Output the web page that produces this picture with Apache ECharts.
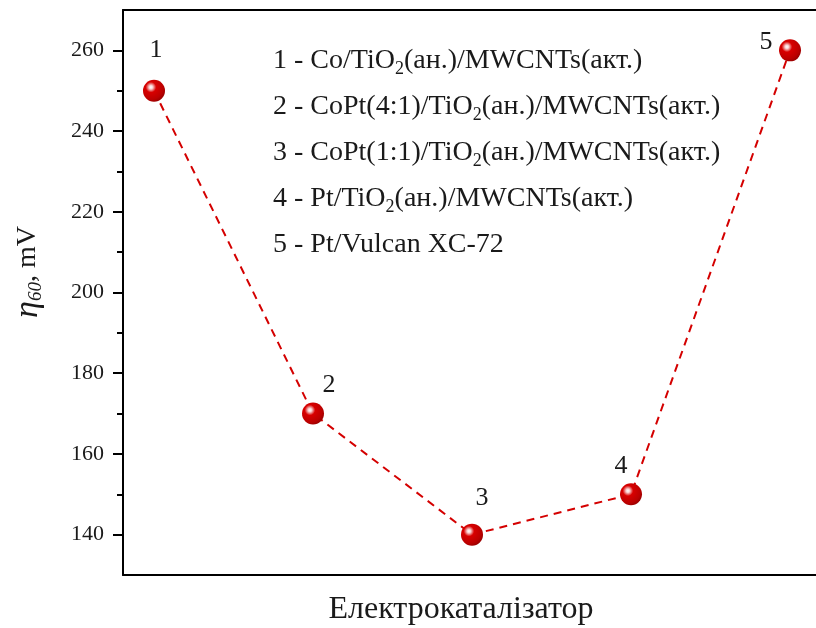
<!DOCTYPE html>
<html>
<head>
<meta charset="utf-8">
<script src="https://cdn.jsdelivr.net/npm/echarts@6/dist/echarts.min.js"></script>
<style>
  html, body { margin: 0; padding: 0; background: #ffffff; }
  #chart { width: 816px; height: 628px; }
</style>
</head>
<body>
<div id="chart"></div>
<script>
// Catalyst index (x) and overpotential at 60 mA (y, mV)
const catalystIds = [1, 2, 3, 4, 5];
const overpotential = [250, 170, 140, 150, 260];
const pointLabels = ['1', '2', '3', '4', '5'];

// Legend lines; {s|...} marks subscript
const legendLines = [
  '1 - Co/TiO{s|2}(ан.)/MWCNTs(акт.)',
  '2 - CoPt(4:1)/TiO{s|2}(ан.)/MWCNTs(акт.)',
  '3 - CoPt(1:1)/TiO{s|2}(ан.)/MWCNTs(акт.)',
  '4 - Pt/TiO{s|2}(ан.)/MWCNTs(акт.)',
  '5 - Pt/Vulcan XC-72'
];

const yMajorTicks = [140, 160, 180, 200, 220, 240, 260];
const yMinorTicks = [150, 170, 190, 210, 230, 250];
const xTitle = 'Електрокаталізатор';
const yTitle = '{eta|η}{sub|60}, mV';

const FONT = 'Liberation Serif';
const INK = '#1a1a1a';

// Per-point label offsets [dx, dy] relative to the marker centre
const labelShift = [[2, -41], [16, -28], [10, -36], [-10, -28], [-24, -8]];

const seriesData = catalystIds.map((x, i) => ({
  value: [x, overpotential[i]],
  label: {
    show: true,
    formatter: pointLabels[i],
    position: 'inside',
    offset: labelShift[i]
  }
}));

const sphere = {
  type: 'radial', x: 0.36, y: 0.34, r: 0.7,
  colorStops: [
    { offset: 0, color: '#ffffff' },
    { offset: 0.12, color: '#f8d0d0' },
    { offset: 0.34, color: '#d80000' },
    { offset: 0.8, color: '#bb0000' },
    { offset: 1, color: '#9a0000' }
  ]
};

const legendGraphics = legendLines.map((line, i) => ({
  type: 'text',
  x: 273,
  y: 61 + i * 46,
  style: {
    text: line,
    fontFamily: FONT,
    fontSize: 28,
    fill: INK,
    align: 'left',
    verticalAlign: 'middle',
    rich: {
      s: { fontFamily: FONT, fontSize: 18, fill: INK, padding: [17, 0, 0, 0] }
    }
  }
}));

const chart = echarts.init(document.getElementById('chart'), null, { renderer: 'canvas' });

const xRange = { min: 0.805, max: 5.1635 };

chart.setOption({
  animation: false,
  backgroundColor: '#ffffff',
  grid: { left: 123, right: 0, top: 10, bottom: 53, containLabel: false },
  xAxis: [
    {
      type: 'value', min: xRange.min, max: xRange.max, position: 'bottom',
      axisLine: { show: true, onZero: false, lineStyle: { color: '#000', width: 2 } },
      axisTick: { show: false }, axisLabel: { show: false }, splitLine: { show: false }
    },
    {
      type: 'value', min: xRange.min, max: xRange.max, position: 'top',
      axisLine: { show: true, onZero: false, lineStyle: { color: '#000', width: 2 } },
      axisTick: { show: false }, axisLabel: { show: false }, splitLine: { show: false }
    }
  ],
  yAxis: [
    {
      type: 'value', min: 130, max: 270, position: 'left',
      axisLine: { show: true, onZero: false, lineStyle: { color: '#000', width: 2 } },
      axisTick: { show: true, inside: false, length: 10, customValues: yMajorTicks,
                  lineStyle: { color: '#000', width: 2 } },
      axisLabel: { show: true, margin: 19, customValues: yMajorTicks,
                   fontFamily: FONT, fontSize: 22, color: INK },
      splitLine: { show: false }
    },
    {
      type: 'value', min: 130, max: 270, position: 'left',
      axisLine: { show: false },
      axisTick: { show: true, inside: false, length: 6, customValues: yMinorTicks,
                  lineStyle: { color: '#000', width: 2 } },
      axisLabel: { show: false },
      splitLine: { show: false }
    }
  ],
  series: [{
    type: 'line',
    xAxisIndex: 0,
    yAxisIndex: 0,
    data: seriesData,
    symbol: 'circle',
    symbolSize: 22,
    itemStyle: { color: sphere, borderWidth: 0 },
    lineStyle: { color: '#d40000', width: 2, type: [8, 6] },
    label: { fontFamily: FONT, fontSize: 26, color: INK },
    z: 3
  }],
  graphic: [
    ...legendGraphics,
    {
      type: 'text',
      x: 461, y: 610,
      style: {
        text: xTitle, fontFamily: FONT, fontSize: 32, fill: INK,
        align: 'center', verticalAlign: 'middle'
      }
    },
    {
      type: 'text',
      x: 28, y: 272,
      rotation: Math.PI / 2,
      style: {
        text: yTitle, fontFamily: FONT, fontSize: 28, fill: INK,
        align: 'center', verticalAlign: 'middle',
        rich: {
          eta: { fontFamily: FONT, fontSize: 34, fontStyle: 'italic', fill: INK },
          sub: { fontFamily: FONT, fontSize: 19, fontStyle: 'italic', fill: INK, padding: [16, 0, 0, 0] }
        }
      }
    }
  ]
});
</script>
</body>
</html>
